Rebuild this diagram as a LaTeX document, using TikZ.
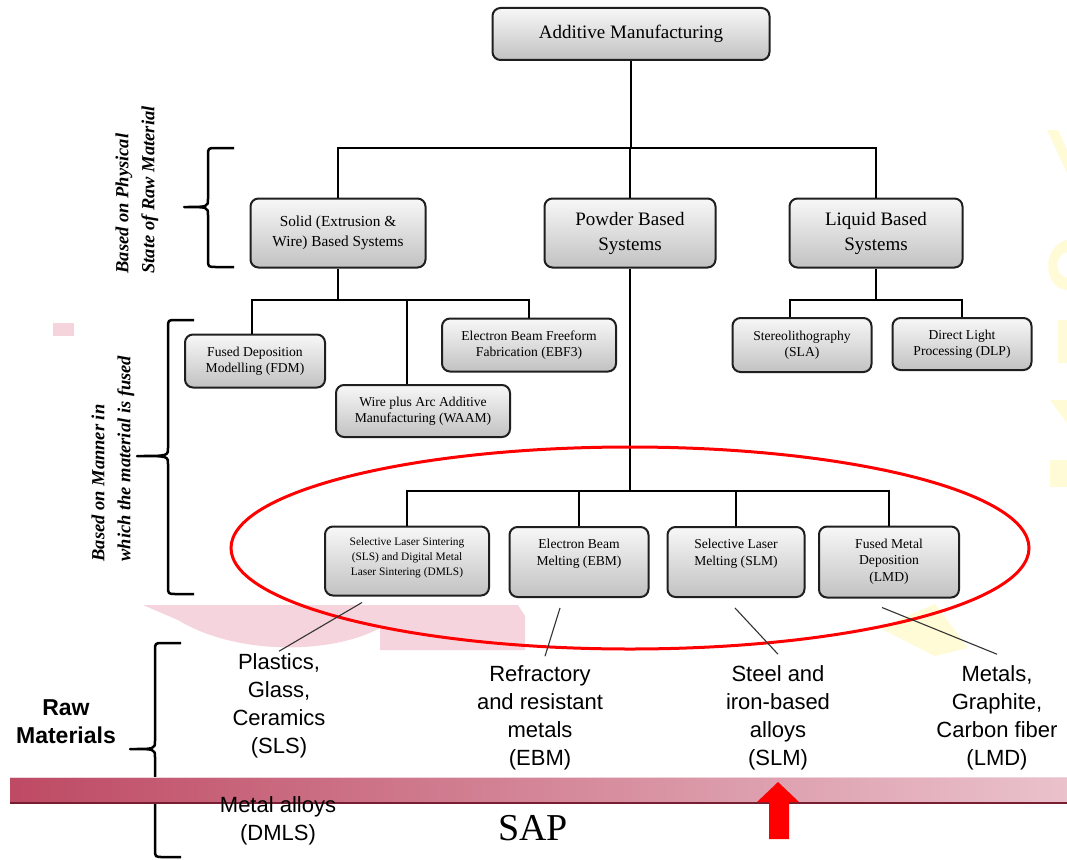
\documentclass[tikz,border=0pt]{standalone}
\usepackage{fontspec}
\setmainfont{Liberation Serif}
\newfontfamily\arial{Liberation Sans}
\newcommand{\sidebrace}[6]{% spine x, top y, mid y, bottom y, arm end x, tip x
  \draw[bracepath] (#5,#2) -- ({#1+8},#2) .. controls (#1,#2) .. (#1,{#2+8})
    -- (#1,{#3-8}) .. controls (#1,#3) .. (#6,#3)
    .. controls (#1,#3) .. (#1,{#3+8})
    -- (#1,{#4-8}) .. controls (#1,#4) .. ({#1+8},#4) -- (#5,#4);}
\definecolor{barL}{RGB}{190,74,100}
\definecolor{barR}{RGB}{234,194,204}
\definecolor{barEdge}{RGB}{120,30,50}
\definecolor{blush}{RGB}{246,212,222}
\definecolor{haze}{RGB}{255,251,214}
\begin{document}
\begin{tikzpicture}[x=1pt,y=-1pt,
  box/.style={draw=black!88, line width=2pt, rounded corners=8pt,
    top color=black!3, bottom color=black!24, align=center, inner sep=0pt},
  conn/.style={draw=black, line width=2.5pt},
  leader/.style={draw=black!80, line width=1.1pt},
  bracepath/.style={draw=black, line width=2.5pt, line join=round},
  sidetext/.style={rotate=90, anchor=west, align=left,
    font=\fontsize{18.5}{26}\selectfont\bfseries\itshape},
  mat/.style={align=center, font=\arial\fontsize{22}{28}\selectfont},
  small/.style={font=\fontsize{13.6}{16}\selectfont},
  inlbl/.style={anchor=north, align=center, font=\fontsize{13.6}{16.5}\selectfont}]

\useasboundingbox (0,0) rectangle (1067,859);
\fill[white] (0,0) rectangle (1067,859);

% faint background marks
\fill[blush] (143,605) -- (518,605) -- (525,616) -- (525,650) -- (380,650)
  -- (380,628) .. controls (330,655) and (235,655) .. (178,620) -- cycle;
\fill[blush] (53,323) rectangle (74,336);
\fill[haze] (880,628) -- (935,604) -- (968,648) -- (935,656) -- cycle;
\fill[haze] (1047,130) -- (1058,130) -- (1067,150) -- (1067,173) -- cycle;
\fill[haze] (1067,240) .. controls (1042,245) and (1042,288) .. (1067,290) -- (1067,278)
  .. controls (1054,275) and (1054,255) .. (1067,252) -- cycle;
\fill[haze] (1058,320) rectangle (1067,363);
\fill[haze] (1050,400) -- (1067,400) -- (1067,423) -- cycle;
\fill[haze] (1050,460) rectangle (1067,487);

% boxes of the tree
\node[box, minimum width=277, minimum height=52,
  font=\fontsize{19}{22}\selectfont] (am) at (631,34) {Additive Manufacturing};
\node[box, minimum width=175, minimum height=69,
  font=\fontsize{15.3}{20}\selectfont] (solid) at (338,233) {Solid (Extrusion \&\\Wire) Based Systems};
\node[box, minimum width=171, minimum height=69,
  font=\fontsize{19}{25}\selectfont] (powder) at (630,233) {Powder Based\\Systems};
\node[box, minimum width=173, minimum height=69,
  font=\fontsize{19}{25}\selectfont] (liquid) at (876,233) {Liquid Based\\Systems};

\node[box, small, minimum width=140, minimum height=53] (fdm) at (255,361) {Fused Deposition\\Modelling (FDM)};
\node[box, small, minimum width=174, minimum height=52] (waam) at (423,411) {Wire plus Arc Additive\\Manufacturing (WAAM)};
\node[box, small, minimum width=174, minimum height=53] (ebf) at (529,345) {Electron Beam Freeform\\Fabrication (EBF3)};
\node[box, small, minimum width=139, minimum height=54] (sla) at (802,345) {Stereolithography\\(SLA)};
\node[box, small, minimum width=139, minimum height=52] (dlp) at (962,344) {Direct Light\\Processing (DLP)};

\node[box, minimum width=164, minimum height=69,
  label={[inlbl, yshift=-9, font=\fontsize{11.4}{15}\selectfont]north:Selective Laser Sintering\\(SLS) and Digital Metal\\Laser Sintering (DMLS)}] (sls) at (407,561) {};
\node[box, minimum width=139, minimum height=70,
  label={[inlbl, yshift=-10]north:Electron Beam\\Melting (EBM)}] (ebm) at (579,562) {};
\node[box, minimum width=137, minimum height=70,
  label={[inlbl, yshift=-10]north:Selective Laser\\Melting (SLM)}] (slm) at (736,562) {};
\node[box, minimum width=140, minimum height=71,
  label={[inlbl, yshift=-10]north:Fused Metal\\Deposition\\(LMD)}] (lmd) at (889,562) {};

% junction levels of the tree
\coordinate (j1) at (631,148);
\coordinate (j2) at (338,300);
\coordinate (j3) at (876,300);
\coordinate (j4) at (630,491);

% connectors
\draw[conn] (am.south) -- (am.south |- j1);
\draw[conn] (solid.north) -- (solid.north |- j1) -- (liquid.north |- j1) -- (liquid.north);
\draw[conn] (powder.north) -- (powder.north |- j1);

\draw[conn] (solid.south) -- (j2);
\draw[conn] ([xshift=-3]fdm.north) -- ([xshift=-3]fdm.north |- j2) -- (ebf.north |- j2) -- (ebf.north);
\draw[conn] ([xshift=-16]waam.north) -- ([xshift=-16]waam.north |- j2);

\draw[conn] (liquid.south) -- (j3);
\draw[conn] ([xshift=-12]sla.north) -- ([xshift=-12]sla.north |- j3) -- (dlp.north |- j3) -- (dlp.north);

\draw[conn] (powder.south) -- (j4);
\draw[conn] (sls.north) -- (sls.north |- j4) -- (lmd.north |- j4) -- (lmd.north);
\draw[conn] (ebm.north) -- (ebm.north |- j4);
\draw[conn] (slm.north) -- (slm.north |- j4);

% grouping braces and their captions
\sidebrace{208}{148}{207}{267}{234}{184}
\node[sidetext] (cap1) at (137,277) {Based on Physical\\State of Raw Material};
\sidebrace{168}{320}{456}{594}{194}{137}
\node[sidetext] (cap2) at (113,565) {Based on Manner in\\which the material is fused};
\sidebrace{155}{643}{749}{857}{181}{130}
\node[align=center, font=\arial\fontsize{23}{28}\selectfont\bfseries] (raw) at (66,722) {Raw\\Materials};

% highlight ring round the powder processes
\draw[red, line width=3pt] (630,548) ellipse [x radius=399, y radius=101];

% raw material labels
\node[mat] (pgc) at (279,706) {Plastics,\\Glass,\\Ceramics\\(SLS)};
\node[mat] (refr) at (540,718) {Refractory\\and resistant\\metals\\(EBM)};
\node[mat] (steel) at (778,718) {Steel and\\iron-based\\alloys\\(SLM)};
\node[mat] (metals) at (997,718) {Metals,\\Graphite,\\Carbon fiber\\(LMD)};

\draw[leader] ([xshift=-45,yshift=-6]sls.south) -- ([yshift=-1]pgc.north);
\draw[leader] ([xshift=-19,yshift=-10]ebm.south) -- ([xshift=5,yshift=6]refr.north);
\draw[leader] ([xshift=-1,yshift=-10]slm.south) -- ([yshift=8]steel.north);
\draw[leader] ([xshift=-7,yshift=-9]lmd.south) -- ([yshift=8]metals.north);

% process bar
\shade[left color=barL, right color=barR] (10,777) rectangle (1067,803);
\draw[barEdge, line width=1.5pt] (10,803) -- (1067,803);
\draw[barR!70!white, line width=0.8pt] (10,777.5) -- (1067,777.5);

\node[mat] (dmls) at (278,821) {Metal alloys\\(DMLS)};
\node[font=\fontsize{38}{40}\selectfont] (sap) at (533,828) {SAP};

% pointer onto the bar
\fill[red] (778,782) -- (799,802) -- (789,802) -- (789,839) -- (769,839)
  -- (769,802) -- (757,802) -- cycle;
\end{tikzpicture}
\end{document}
